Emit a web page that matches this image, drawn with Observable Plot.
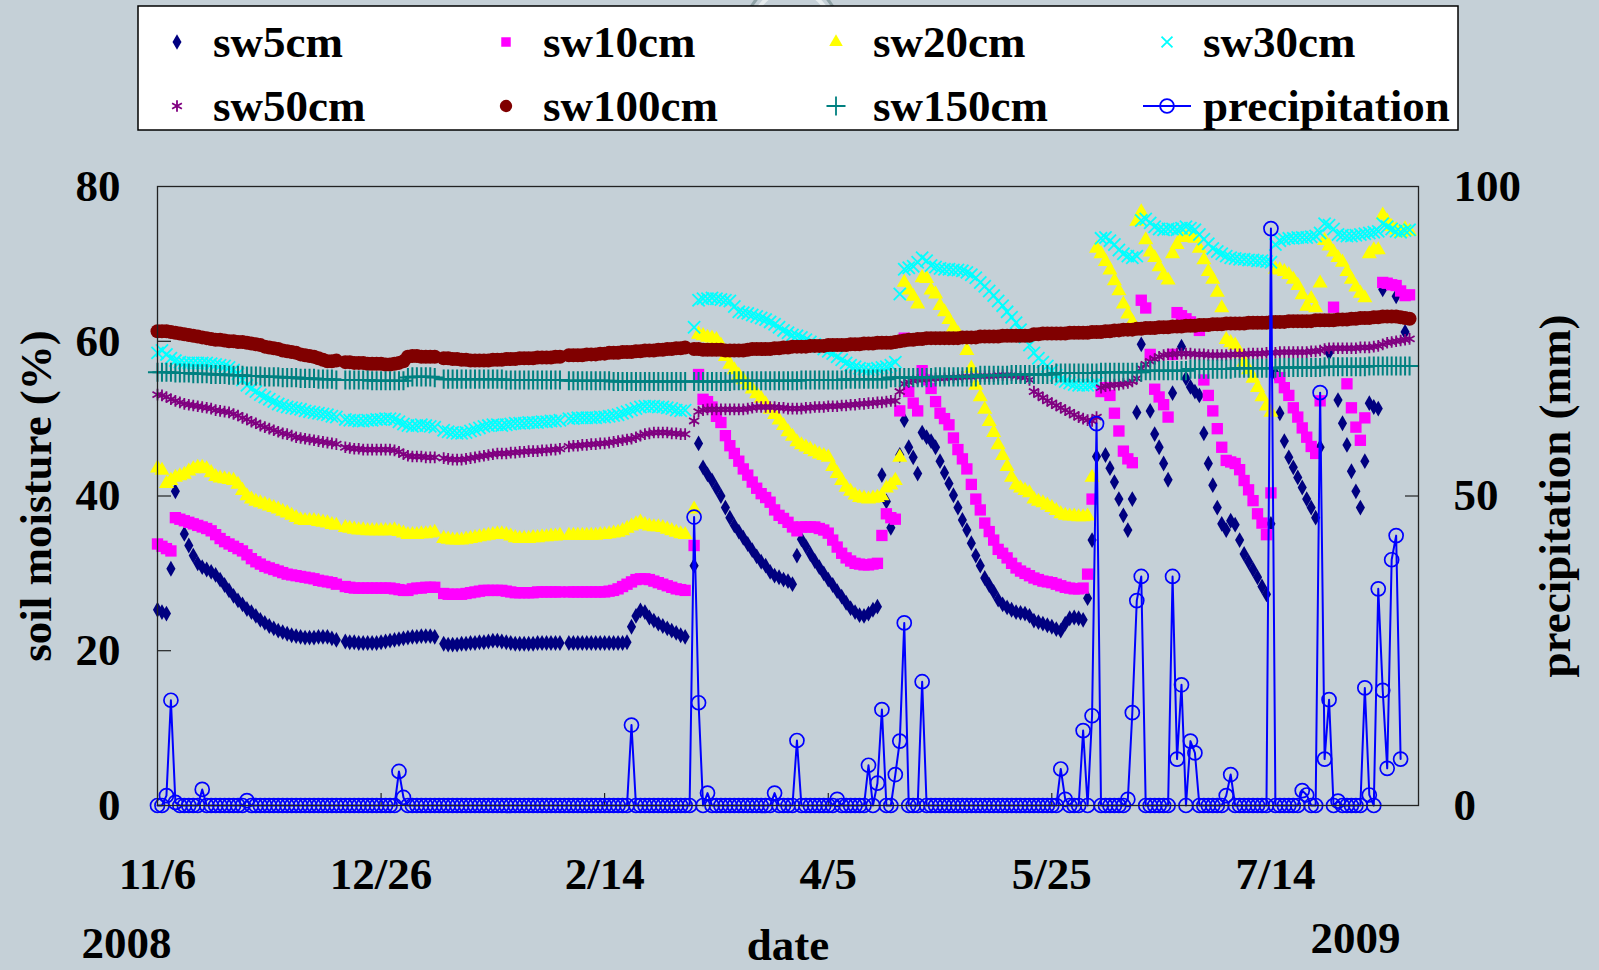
<!DOCTYPE html>
<html><head><meta charset="utf-8">
<script src="https://cdn.jsdelivr.net/npm/d3@7"></script>
<script src="https://cdn.jsdelivr.net/npm/@observablehq/plot@0.6"></script>
<style>
html,body{margin:0;padding:0;background:#c5d0d7;}
#wrap{position:relative;width:1599px;height:970px;overflow:hidden;background:#c5d0d7;}
#chart{position:absolute;left:0;top:0;}
#deco{position:absolute;left:0;top:0;}
#legend{position:absolute;left:137px;top:5px;}
</style></head><body>
<div id="wrap"><div id="deco"></div><div id="chart"></div><div id="legend"></div></div>
<script>
// ---- data (daily values starting 2008-11-06; null = no reading) ----
const startDate = "2008-11-06";
const endDate = "2009-08-15";
const sw5 = [
25.3,25.0,24.8,30.6,40.6,null,35.1,33.6,32.3,31.3,
30.8,30.5,30.2,29.8,29.2,28.5,27.8,27.1,26.5,26.0,
25.4,25.0,24.5,24.0,23.6,23.2,22.9,22.6,22.4,22.2,
22.0,21.9,21.8,21.7,21.7,21.7,21.8,21.8,21.8,21.6,
21.4,null,21.2,21.1,21.1,21.0,21.0,21.0,21.0,21.0,
21.1,21.2,21.3,21.4,21.5,21.6,21.7,21.8,21.8,21.9,
21.9,21.9,21.8,null,20.9,20.8,20.8,20.8,20.9,20.9,
21.0,21.0,21.1,21.1,21.2,21.3,21.3,21.2,21.1,21.0,
20.9,20.9,20.9,20.9,20.9,21.0,21.0,21.0,21.0,21.0,
21.0,null,21.0,21.0,21.0,21.0,21.0,21.0,21.0,21.0,
21.0,21.0,21.0,21.0,21.0,21.1,23.1,24.5,25.2,25.0,
24.3,23.9,23.5,23.2,22.9,22.6,22.3,22.0,21.8,null,
31.0,46.8,43.7,42.8,42.0,41.0,40.0,38.5,37.2,36.2,
35.4,34.6,33.8,33.0,32.2,31.5,31.0,30.2,29.7,29.5,
29.2,29.0,28.6,32.3,34.4,33.5,32.5,31.6,30.8,30.0,
29.2,28.5,27.7,27.0,26.2,25.5,25.0,24.6,24.5,24.8,
25.3,25.7,42.7,39.3,35.9,null,45.3,49.8,46.3,45.0,
42.9,48.2,47.6,47.1,46.3,44.5,43.0,41.6,40.1,38.5,
36.9,35.6,33.9,32.3,31.0,29.4,28.5,27.6,26.6,26.0,
25.6,25.3,25.0,24.9,24.8,24.5,23.9,23.7,23.5,23.3,
23.1,22.8,22.6,23.5,24.2,24.3,24.2,24.0,26.8,34.3,
45.1,null,45.3,43.6,41.8,39.6,37.5,35.6,39.6,50.8,
59.6,null,51.0,48.0,46.3,44.2,42.1,53.3,null,59.3,
55.2,54.1,53.5,53.0,48.1,44.2,41.4,38.5,36.4,35.6,
36.8,36.3,34.3,32.5,31.5,30.5,29.5,28.3,27.3,36.4,
55.8,50.7,47.1,45.0,43.7,42.4,41.1,39.6,38.5,37.2,
46.3,null,58.5,null,52.4,49.4,46.6,43.2,40.6,38.5,
44.5,52.0,51.5,51.3,66.7,null,null,65.8,null,61.2,
null];
const sw10 = [
33.8,33.5,33.2,32.9,37.2,37.0,36.8,36.6,36.4,36.2,
36.0,35.8,35.5,35.0,34.5,34.1,33.8,33.5,33.2,32.9,
32.4,31.9,31.5,31.2,30.9,30.7,30.5,30.3,30.1,29.9,
29.8,29.7,29.6,29.5,29.4,29.3,29.1,29.0,28.9,28.8,
28.6,null,28.3,28.2,28.1,28.1,28.1,28.1,28.1,28.1,
28.1,28.1,28.1,28.0,27.9,27.8,27.8,28.0,28.1,28.1,
28.2,28.2,28.2,null,27.4,27.3,27.3,27.3,27.3,27.4,
27.5,27.6,27.7,27.8,27.8,27.8,27.8,27.8,27.7,27.6,
27.5,27.5,27.5,27.5,27.5,27.6,27.6,27.6,27.6,27.6,
27.6,null,27.6,27.6,27.6,27.6,27.6,27.6,27.6,27.6,
27.6,27.7,27.8,28.0,28.3,28.6,28.9,29.2,29.3,29.3,
29.2,29.0,28.8,28.6,28.4,28.2,28.0,27.9,27.8,null,
33.6,55.7,52.5,52.2,51.5,50.3,49.5,47.8,46.5,45.5,
44.5,43.5,42.7,41.8,41.0,40.3,39.8,39.2,38.2,37.5,
37.1,36.6,36.0,35.5,36.0,36.0,36.0,36.0,35.8,35.6,
35.2,34.3,33.4,32.6,32.0,31.6,31.3,31.2,31.1,31.1,
31.2,31.3,34.9,37.7,37.2,37.0,51.0,60.4,53.5,52.0,
51.0,56.2,55.0,53.9,52.2,50.7,50.0,49.2,47.5,46.0,
44.8,43.5,41.5,39.6,38.2,36.5,35.4,34.3,33.1,32.6,
32.0,31.3,30.7,30.3,30.0,29.7,29.4,29.2,29.0,28.9,
28.8,28.6,28.4,28.2,28.1,28.0,28.0,28.1,29.9,39.6,
null,53.5,54.0,53.0,50.7,48.4,45.8,44.8,44.3,null,
65.3,64.3,58.3,53.8,52.8,51.8,50.2,58.3,63.7,63.3,
62.9,62.5,62.1,61.4,55.0,53.0,51.0,48.7,46.3,44.6,
44.4,44.2,43.4,42.0,40.8,39.4,37.7,36.5,35.0,40.4,
null,55.3,54.0,53.0,51.4,50.2,48.8,47.6,46.4,45.5,
52.3,null,null,64.4,null,null,54.5,51.4,48.9,47.2,
50.1,null,null,null,67.6,67.5,67.3,67.2,66.5,65.9,
66.0];
const sw20 = [
43.6,43.3,41.6,42.0,42.4,42.6,42.8,43.2,43.5,43.7,
43.7,43.5,43.0,42.5,42.3,42.2,42.1,42.0,41.5,40.7,
40.0,39.6,39.3,39.1,38.9,38.7,38.5,38.3,38.0,37.8,
37.5,37.2,36.9,36.8,36.8,36.8,36.7,36.6,36.5,36.3,
36.2,null,35.9,35.8,35.7,35.6,35.6,35.5,35.5,35.5,
35.5,35.5,35.5,35.6,35.4,35.2,35.0,35.0,35.0,35.1,
35.1,35.2,35.3,null,34.5,34.4,34.3,34.3,34.3,34.4,
34.5,34.6,34.7,34.8,34.9,35.0,35.1,35.1,35.0,34.8,
34.6,34.5,34.5,34.5,34.6,34.6,34.7,34.7,34.8,34.8,
34.9,null,34.9,34.9,34.9,34.9,34.9,34.9,34.9,35.0,
35.0,35.1,35.2,35.3,35.5,35.8,36.1,36.4,36.6,36.3,
36.1,36.0,36.0,35.9,35.7,35.5,35.3,35.1,35.0,null,
38.3,60.9,60.7,60.5,60.4,60.2,59.5,58.0,57.0,56.3,
55.6,55.0,54.4,53.8,53.2,52.6,51.9,51.2,50.5,49.8,
49.1,48.3,47.7,47.0,46.6,46.3,46.0,45.7,45.4,45.2,
45.0,43.8,42.9,42.0,41.1,40.6,40.1,39.8,39.7,39.6,
39.7,39.8,40.0,41.0,41.4,42.0,45.0,67.6,66.6,65.8,
64.8,68.2,68.1,66.6,66.1,64.6,63.8,62.8,61.8,61.0,
60.2,58.8,56.5,54.3,52.8,51.2,49.6,48.2,46.6,45.2,
43.8,42.4,41.4,41.0,40.7,40.4,39.6,39.3,39.1,38.8,
38.5,38.1,37.7,37.5,37.4,37.4,37.3,37.3,37.4,42.4,
72.0,71.3,70.3,69.2,67.8,66.5,64.8,63.5,62.5,75.5,
76.7,73.1,71.5,70.8,69.6,68.5,67.9,71.3,72.5,73.4,
73.4,73.4,73.3,72.0,70.5,69.0,68.0,66.3,64.3,60.2,
59.8,59.5,58.5,57.3,56.3,55.2,54.0,52.8,51.6,50.8,
69.3,69.2,69.0,68.6,68.0,67.2,66.0,64.5,65.5,64.3,
67.5,73.0,72.3,71.5,70.8,70.2,69.0,68.0,67.0,66.2,
65.6,71.3,71.8,71.8,76.3,75.5,74.8,74.4,74.0,74.5,
74.2];
const sw30 = [
58.5,58.8,58.3,57.8,57.5,57.3,57.2,57.2,57.2,57.2,
57.2,57.2,57.1,57.0,56.9,56.8,56.6,56.3,55.8,55.0,
54.3,53.9,53.5,53.1,52.8,52.5,52.2,51.9,51.7,51.5,
51.4,51.3,51.2,51.0,50.9,50.8,50.7,50.6,50.5,50.3,
50.2,null,49.9,49.8,49.8,49.7,49.7,49.8,49.8,49.9,
49.9,50.0,50.0,49.9,49.6,49.3,49.1,49.0,49.1,49.2,
49.1,49.0,48.9,null,48.5,48.3,48.2,48.1,48.1,48.2,
48.4,48.6,48.8,49.0,49.1,49.2,49.2,49.1,49.2,49.3,
49.4,49.4,49.4,49.5,49.5,49.5,49.6,49.6,49.7,49.7,
49.8,null,50.0,50.0,50.1,50.1,50.1,50.1,50.1,50.2,
50.2,50.3,50.4,50.5,50.7,50.9,51.1,51.3,51.5,51.6,
51.6,51.6,51.5,51.5,51.4,51.3,51.1,51.0,51.1,null,
61.8,65.3,65.5,65.5,65.6,65.5,65.4,65.3,65.2,64.5,
63.8,63.7,63.6,63.4,63.2,63.0,62.8,62.5,62.2,61.8,
61.4,61.1,60.8,60.7,60.5,60.2,59.9,59.6,59.3,59.0,
58.7,58.4,58.0,57.6,57.2,56.9,56.7,56.5,56.4,56.3,
56.4,56.5,56.6,56.7,56.9,57.3,66.1,69.3,69.5,69.7,
70.2,70.8,70.4,69.8,69.6,69.4,69.3,69.3,69.2,69.2,
69.1,68.9,68.6,68.2,67.6,67.1,66.5,65.9,65.2,64.6,
63.8,63.1,62.4,61.5,60.5,59.5,58.5,57.8,57.3,56.8,
56.2,55.6,55.1,54.8,54.6,54.4,54.3,54.3,54.3,54.4,
54.6,73.3,73.4,73.0,72.5,71.8,71.3,71.0,70.8,71.0,
75.6,75.8,75.3,74.8,74.5,74.4,74.5,74.5,74.4,74.6,
74.8,74.6,74.4,73.8,73.2,72.6,72.0,71.6,71.3,71.0,
70.8,70.7,70.6,70.6,70.5,70.5,70.4,70.4,70.3,70.2,
72.5,73.0,73.2,73.3,73.3,73.4,73.4,73.4,73.5,73.6,
74.0,75.2,75.0,74.5,73.8,73.7,73.6,73.6,73.7,73.8,
73.9,74.0,74.1,74.2,75.2,74.8,74.5,74.2,74.1,74.3,
74.4];
const sw50 = [
53.1,53.0,52.8,52.5,52.3,52.1,51.9,51.8,51.7,51.6,
51.5,51.4,51.3,51.1,51.0,50.9,50.8,50.6,50.4,50.1,
49.9,49.6,49.4,49.1,48.9,48.7,48.5,48.3,48.1,48.0,
47.8,47.6,47.5,47.4,47.3,47.2,47.1,47.0,46.9,46.8,
46.7,null,46.3,46.2,46.1,46.1,46.0,46.0,46.0,46.0,
46.0,46.0,46.0,45.9,45.7,45.4,45.2,45.1,45.1,45.1,
45.0,45.0,45.0,null,44.9,44.8,44.7,44.7,44.7,44.8,
44.9,45.0,45.1,45.2,45.3,45.4,45.5,45.5,45.5,45.6,
45.6,45.7,45.7,45.8,45.8,45.8,45.9,45.9,46.0,46.0,
46.1,null,46.4,46.5,46.5,46.6,46.6,46.7,46.7,46.8,
46.8,46.9,47.0,47.1,47.2,47.3,47.4,47.6,47.8,48.0,
48.1,48.2,48.2,48.2,48.2,48.1,48.1,48.0,48.0,null,
49.7,50.9,51.1,51.2,51.2,51.2,51.2,51.2,51.2,51.2,
51.2,51.2,51.3,51.4,51.5,51.5,51.5,51.5,51.5,51.4,
51.4,51.3,51.3,51.3,51.3,51.4,51.4,51.5,51.5,51.5,
51.6,51.6,51.6,51.7,51.7,51.8,51.8,51.9,51.9,52.0,
52.0,52.1,52.1,52.2,52.3,52.3,53.5,54.5,54.7,54.9,
55.0,55.0,55.1,55.1,55.2,55.2,55.2,55.3,55.3,55.3,
55.4,55.4,55.4,55.5,55.5,55.5,55.5,55.5,55.6,55.6,
55.6,55.6,55.5,55.4,55.3,55.0,53.5,53.1,52.7,52.3,
52.0,51.7,51.4,51.1,50.8,50.5,50.2,50.0,49.8,49.7,
50.2,54.0,54.2,54.3,54.4,54.4,54.5,54.6,54.8,55.2,
56.5,57.0,57.4,57.7,58.0,58.2,58.3,58.3,58.4,58.4,
58.4,58.4,58.3,58.3,58.3,58.2,58.2,58.2,58.2,58.2,
58.3,58.3,58.3,58.3,58.4,58.4,58.4,58.4,58.5,58.5,
58.5,58.6,58.6,58.6,58.6,58.6,58.6,58.6,58.7,58.7,
58.8,59.0,59.1,59.1,59.1,59.1,59.1,59.1,59.1,59.2,
59.2,59.2,59.3,59.4,59.6,59.8,59.9,60.0,60.1,60.2,
60.3];
const sw100 = [
61.3,61.3,61.3,61.2,61.1,61.0,60.9,60.8,60.7,60.6,
60.5,60.4,60.3,60.2,60.2,60.1,60.0,60.0,59.9,59.9,
59.8,59.7,59.6,59.5,59.3,59.2,59.1,59.0,58.8,58.7,
58.6,58.5,58.3,58.2,58.1,58.0,57.8,57.6,57.4,57.4,
57.5,null,57.3,57.3,57.2,57.2,57.2,57.1,57.1,57.1,
57.1,57.0,57.0,57.1,57.2,57.4,58.0,58.1,58.1,58.0,
58.0,58.0,58.0,null,57.8,57.8,57.7,57.7,57.6,57.6,
57.5,57.5,57.5,57.5,57.5,57.6,57.6,57.6,57.7,57.7,
57.7,57.8,57.8,57.8,57.8,57.9,57.9,57.9,57.9,58.0,
58.0,null,58.2,58.2,58.2,58.2,58.3,58.3,58.3,58.4,
58.4,58.5,58.5,58.5,58.6,58.6,58.6,58.7,58.7,58.8,
58.8,58.8,58.9,58.9,59.0,59.0,59.1,59.1,59.2,null,
59.0,59.0,58.9,58.9,58.9,58.9,58.9,58.8,58.8,58.8,
58.8,58.8,58.9,59.0,59.0,59.0,59.0,59.0,59.1,59.1,
59.2,59.2,59.3,59.3,59.3,59.3,59.4,59.4,59.4,59.4,
59.5,59.5,59.5,59.5,59.5,59.6,59.6,59.6,59.7,59.7,
59.7,59.8,59.8,59.8,59.8,59.9,60.0,60.1,60.2,60.2,
60.3,60.3,60.4,60.4,60.4,60.4,60.4,60.4,60.4,60.4,
60.5,60.5,60.5,60.5,60.6,60.6,60.6,60.6,60.6,60.7,
60.7,60.7,60.7,60.7,60.7,60.7,60.9,60.9,61.0,61.0,
61.0,61.0,61.0,61.0,61.1,61.1,61.1,61.1,61.1,61.2,
61.2,61.2,61.3,61.3,61.4,61.4,61.5,61.5,61.5,61.6,
61.6,61.7,61.7,61.7,61.8,61.8,61.8,61.9,61.9,61.9,
62.0,62.0,62.0,62.1,62.1,62.1,62.2,62.2,62.2,62.3,
62.3,62.3,62.3,62.3,62.4,62.4,62.4,62.4,62.4,62.5,
62.5,62.5,62.5,62.6,62.6,62.6,62.6,62.6,62.6,62.7,
62.7,62.7,62.7,62.7,62.8,62.8,62.8,62.9,62.9,63.0,
63.0,63.0,63.1,63.1,63.2,63.2,63.2,63.2,63.1,63.0,
62.9];
const sw150 = [
56.0,56.0,56.0,56.0,55.9,55.9,55.9,55.9,55.8,55.8,
55.8,55.8,55.7,55.7,55.7,55.7,55.6,55.6,55.6,55.6,
55.5,55.5,55.5,55.5,55.4,55.4,55.4,55.4,55.3,55.3,
55.3,55.3,55.2,55.2,55.2,55.2,55.1,55.1,55.1,55.1,
55.0,null,55.0,55.0,55.0,55.0,55.0,55.0,54.9,54.9,
54.9,54.9,54.9,54.9,54.9,54.9,55.3,55.4,55.4,55.4,
55.4,55.4,55.3,null,55.1,55.1,55.1,55.1,55.1,55.1,
55.1,55.1,55.1,55.1,55.1,55.1,55.1,55.1,55.0,55.0,
55.0,55.0,55.0,55.0,55.0,55.0,55.0,55.0,55.0,55.0,
55.0,null,54.9,54.9,54.9,54.9,54.9,54.9,54.9,54.9,
54.9,54.9,54.8,54.8,54.8,54.8,54.8,54.8,54.8,54.8,
54.8,54.8,54.8,54.8,54.8,54.8,54.8,54.8,54.8,null,
54.8,54.8,54.8,54.8,54.8,54.8,54.8,54.8,54.8,54.9,
54.9,54.9,54.9,54.9,54.9,54.9,54.9,54.9,54.9,54.9,
54.9,54.9,54.9,54.9,55.0,55.0,55.0,55.0,55.0,55.0,
55.0,55.0,55.0,55.0,55.1,55.1,55.1,55.1,55.1,55.1,
55.1,55.1,55.1,55.1,55.3,55.3,55.3,55.3,55.3,55.3,
55.3,55.3,55.3,55.3,55.4,55.4,55.4,55.4,55.4,55.4,
55.4,55.4,55.4,55.4,55.6,55.6,55.6,55.6,55.6,55.6,
55.6,55.7,55.7,55.7,55.7,55.7,55.7,55.7,55.7,55.7,
55.7,55.9,55.9,55.9,55.9,55.9,55.9,55.9,55.9,55.9,
55.9,56.0,56.0,56.0,56.0,56.0,56.0,56.0,56.0,56.0,
56.0,56.2,56.2,56.2,56.2,56.2,56.2,56.2,56.2,56.2,
56.2,56.4,56.4,56.4,56.4,56.4,56.4,56.4,56.4,56.4,
56.4,56.5,56.5,56.5,56.5,56.5,56.5,56.5,56.5,56.5,
56.5,56.6,56.6,56.6,56.6,56.6,56.6,56.6,56.6,56.6,
56.6,56.7,56.7,56.7,56.7,56.7,56.7,56.7,56.7,56.7,
56.7,56.8,56.8,56.8,56.8,56.8,56.8,56.8,56.8,56.8,
56.8];
// precipitation (mm): days with rain (day index from start) and amounts; every other day to lastPrecipDay had 0 mm
const lastPrecipDay = 278;
const precipDays =   [2,3,4,10,20,54,55,106,120,121,123,138,143,152,159,161,162,165,166,167,171,202,203,207,209,210,217,218,219,220,227,228,229,231,232,239,240,249,256,257,260,261,262,264,270,271,273,274,275,276,277,278];
const precipValues = [1.6,17.0,0.5,2.6,0.8,5.5,1.3,13.0,46.6,16.6,2.0,2.0,10.5,1.0,6.5,3.6,15.5,5.0,10.4,29.5,20.0,5.9,1.0,12.1,14.5,61.7,1.0,15.0,33.1,37.0,37.0,7.5,19.5,10.4,8.5,1.6,5.0,93.2,2.4,1.7,66.7,7.5,17.1,0.7,19.0,1.7,35.0,18.6,6.0,39.7,43.6,7.5];
// axes
const xTickDates = ["2008-11-06","2008-12-26","2009-02-14","2009-04-05","2009-05-25","2009-07-14"];
const xTickLabels = ["11/6","12/26","2/14","4/5","5/25","7/14"];
const yTicks = [0,20,40,60,80];
const precipTicks = [0,50,100];
const seriesNames = ["sw5cm","sw10cm","sw20cm","sw30cm","sw50cm","sw100cm","sw150cm","precipitation"];
const colors = ["#000080","#ff00ff","#ffff00","#00ffff","#800080","#800000","#008080","#0000ff"];

// ---- build tables ----
const t0 = new Date(startDate + "T00:00:00Z");
const tEnd = new Date(endDate + "T00:00:00Z");
const day = i => new Date(t0.getTime() + i * 864e5);
const rows = arr => arr.map((v, i) => ({date: day(i), v})).filter(d => d.v !== null);
const k = yTicks[yTicks.length - 1] / precipTicks[precipTicks.length - 1]; // precip -> left scale
const precip = d3.range(lastPrecipDay + 1).map(i => {
  const j = precipDays.indexOf(i);
  return {date: day(i), p: j >= 0 ? precipValues[j] : 0};
});
const xTicks = xTickDates.map(s => new Date(s + "T00:00:00Z"));
const precipPos = precipTicks.map(p => p * k);

const FONT = "'Liberation Serif','Times New Roman',serif";
const bold = {fontSize: 45, fontWeight: "bold", fill: "black"};
const title = {...bold, textAnchor: "middle", lineAnchor: "middle"};

const chart = Plot.plot({
  width: 1599, height: 970,
  marginLeft: 157, marginRight: 181, marginTop: 186, marginBottom: 165,
  style: {background: "transparent", fontFamily: FONT, color: "black"},
  x: {type: "utc", domain: [t0, tEnd]},
  y: {domain: [0, 80]},
  marks: [
    Plot.axisY(yTicks, {anchor: "left", tickSize: -14, tickPadding: 51, tickFormat: d => String(d), label: null, ...bold}),
    Plot.axisY(precipPos, {anchor: "right", tickSize: -14, tickPadding: 49, tickFormat: d => String(precipTicks[precipPos.indexOf(d)]), label: null, ...bold}),
    Plot.axisX(xTicks, {anchor: "bottom", tickSize: -12, tickPadding: 64, tickFormat: d => xTickLabels[xTicks.findIndex(t => +t === +d)], label: null, ...bold}),
    Plot.dot(rows(sw5), {x: "date", y: "v", symbol: "diamond", r: 4.8, fill: colors[0]}),
    Plot.dot(rows(sw10), {x: "date", y: "v", symbol: "square", r: 6.4, fill: colors[1]}),
    Plot.dot(rows(sw20), {x: "date", y: "v", symbol: "triangle", r: 5.6, fill: colors[2]}),
    Plot.dot(rows(sw30), {x: "date", y: "v", symbol: "times", r: 5.6, stroke: colors[3], strokeWidth: 1.8}),
    Plot.dot(rows(sw50), {x: "date", y: "v", symbol: "asterisk", r: 5.5, stroke: colors[4], strokeWidth: 1.8}),
    Plot.dot(rows(sw100), {x: "date", y: "v", symbol: "circle", r: 7, fill: colors[5]}),
    Plot.line(rows(sw150), {x: "date", y: "v", stroke: colors[6], strokeWidth: 2}),
    Plot.dot(rows(sw150), {x: "date", y: "v", symbol: "plus", r: 6.2, stroke: colors[6], strokeWidth: 2}),
    Plot.line(precip, {x: "date", y: d => d.p * k, stroke: colors[7], strokeWidth: 2}),
    Plot.dot(precip, {x: "date", y: d => d.p * k, symbol: "circle", r: 7, stroke: colors[7], strokeWidth: 1.7, fill: "none"}),
    Plot.frame({stroke: "#222", strokeWidth: 1.3}),
    Plot.text(["soil moisture (%)"], {text: d => d, frameAnchor: "left", dx: -121, rotate: -90, ...title}),
    Plot.text(["precipitation (mm)"], {text: d => d, frameAnchor: "right", dx: 137, rotate: -90, ...title}),
    Plot.text(["date"], {text: d => d, frameAnchor: "bottom", dy: 140, ...title}),
    Plot.text(["2008"], {text: d => d, frameAnchor: "bottom-left", dx: -31, dy: 138, ...title}),
    Plot.text(["2009"], {text: d => d, frameAnchor: "bottom-left", dx: 1198, dy: 133, ...title})
  ]
});
document.getElementById("chart").appendChild(chart);

// faint logo peeking above the legend box
const deco = d3.select("#deco").append("svg").attr("width", 1599).attr("height", 60);
deco.append("circle").attr("cx", 792).attr("cy", 30).attr("r", 47).attr("fill", "none").attr("stroke", "#8fa2a6").attr("stroke-width", 3);
deco.append("circle").attr("cx", 792).attr("cy", 30).attr("r", 40).attr("fill", "none").attr("stroke", "#e6ecee").attr("stroke-width", 4);

// ---- legend ----
const LW = 1322, LH = 126;
const lg = d3.select("#legend").append("svg").attr("width", LW).attr("height", LH)
  .style("font-family", FONT);
lg.append("rect").attr("x", 1).attr("y", 1).attr("width", LW - 2).attr("height", LH - 2)
  .attr("fill", "white").attr("stroke", "black").attr("stroke-width", 1.5);
const symX = [40, 369, 699, 1030], txtX = [76, 406, 736, 1066], rowY = [37, 101];
const legSym = [
  {t: d3.symbolDiamond, s: 70, fill: colors[0]},
  {t: d3.symbolSquare, s: 90, fill: colors[1]},
  {t: d3.symbolTriangle, s: 80, fill: colors[2]},
  {t: d3.symbolTimes, s: 80, stroke: colors[3]},
  {t: d3.symbolAsterisk, s: 90, stroke: colors[4]},
  {t: d3.symbolCircle, s: 120, fill: colors[5]},
  {t: d3.symbolPlus, s: 120, stroke: colors[6]},
  {t: d3.symbolCircle, s: 150, stroke: colors[7], line: true}
];
seriesNames.forEach((name, i) => {
  const cx = symX[i % 4], cy = rowY[Math.floor(i / 4)];
  const s = legSym[i];
  if (s.line) lg.append("line").attr("x1", cx - 24).attr("x2", cx + 24).attr("y1", cy).attr("y2", cy)
    .attr("stroke", s.stroke).attr("stroke-width", 2);
  lg.append("path").attr("d", d3.symbol(s.t, s.s)()).attr("transform", `translate(${cx},${cy})`)
    .attr("fill", s.fill || "none").attr("stroke", s.stroke || "none").attr("stroke-width", 1.8);
  lg.append("text").attr("x", txtX[i % 4]).attr("y", cy).attr("dy", "0.33em")
    .attr("font-size", 45).attr("font-weight", "bold").text(name);
});
</script>
</body></html>
